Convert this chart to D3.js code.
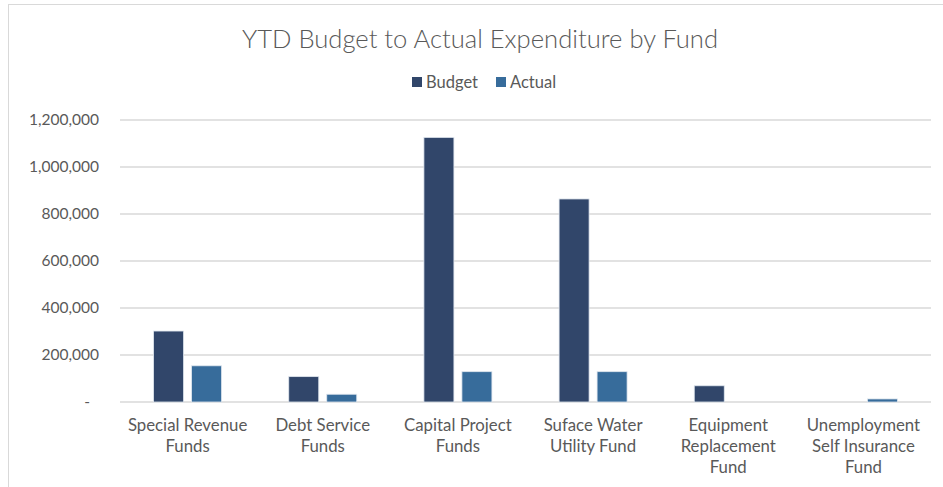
<!DOCTYPE html>
<html>
<head>
<meta charset="utf-8">
<script src="https://cdn.jsdelivr.net/npm/d3@7"></script>
<style>
  body { margin: 0; background: #fff; }
  text { font-family: Lato, "Open Sans", sans-serif; fill: #595959; }
</style>
</head>
<body>
<div id="chart"></div>
<script>
// Chart size
const width = 943;
const height = 487;
const margin = { top: 120, right: 12, bottom: 85, left: 120 };

// Data
const funds = [
    "Special Revenue Funds",
    "Debt Service Funds",
    "Capital Project Funds",
    "Suface Water Utility Fund",
    "Equipment Replacement Fund",
    "Unemployment Self Insurance Fund"
];
const fundLabels = [
    ["Special Revenue", "Funds"],
    ["Debt Service", "Funds"],
    ["Capital Project", "Funds"],
    ["Suface Water", "Utility Fund"],
    ["Equipment", "Replacement", "Fund"],
    ["Unemployment", "Self Insurance", "Fund"]
];
const budget = [302000, 108000, 1126000, 864000, 69000, 0];
const actual = [154000, 33000, 129000, 129000, 0, 13000];
const seriesNames = ["Budget", "Actual"];
const seriesColors = ["#31466A", "#376C9B"];
const yTicks = [0, 200000, 400000, 600000, 800000, 1000000, 1200000];

const svg = d3.select("#chart")
    .append("svg")
    .attr("width", width)
    .attr("height", height);

// Outer chart border
svg.append("rect")
    .attr("x", 8.5)
    .attr("y", 4.5)
    .attr("width", width + 10)
    .attr("height", height + 10)
    .attr("fill", "none")
    .attr("stroke", "#d9d9d9");

// Title
svg.append("text")
    .attr("x", 480)
    .attr("y", 48)
    .attr("text-anchor", "middle")
    .style("font-size", "25.6px")
    .style("font-weight", 300)
    .text("YTD Budget to Actual Expenditure by Fund");

// Legend
const legend = svg.append("g").attr("transform", "translate(412,77)");
const legendX = [0, 84];
seriesNames.forEach((name, i) => {
    legend.append("rect")
        .attr("x", legendX[i])
        .attr("y", 0)
        .attr("width", 10)
        .attr("height", 10)
        .attr("fill", seriesColors[i]);
    legend.append("text")
        .attr("x", legendX[i] + 14)
        .attr("y", 11)
        .style("font-size", "16.5px")
        .text(name);
});

// Scales
const x = d3.scaleBand()
    .domain(funds)
    .range([margin.left, width - margin.right]);

const xInner = d3.scaleBand()
    .domain(seriesNames)
    .range([0, 68])
    .paddingInner(8 / 38);

const y = d3.scaleLinear()
    .domain([0, 1200000])
    .range([height - margin.bottom, margin.top]);

// Gridlines
svg.append("g")
    .selectAll("line")
    .data(yTicks)
    .join("line")
    .attr("x1", margin.left)
    .attr("x2", width - margin.right)
    .attr("y1", d => y(d))
    .attr("y2", d => y(d))
    .attr("stroke", "#d9d9d9")
    .attr("stroke-width", 1.3);

// Y axis labels
const fmt = d3.format(",");
svg.append("g")
    .selectAll("text")
    .data(yTicks)
    .join("text")
    .attr("x", d => d === 0 ? 90 : 99)
    .attr("y", d => y(d) + 5)
    .attr("text-anchor", "end")
    .style("font-size", "15.5px")
    .text(d => d === 0 ? "-" : fmt(d));

// Bars
const rows = funds.map((f, i) => ({ fund: f, values: [budget[i], actual[i]] }));
const groups = svg.append("g")
    .selectAll("g")
    .data(rows)
    .join("g")
    .attr("transform", d => `translate(${x(d.fund) + x.bandwidth() / 2 - 34},0)`);

groups.selectAll("rect")
    .data(d => d.values.map((v, i) => ({ name: seriesNames[i], value: v, color: seriesColors[i] })))
    .join("rect")
    .filter(d => d.value > 0)
    .attr("x", d => xInner(d.name))
    .attr("y", d => y(d.value))
    .attr("width", xInner.bandwidth())
    .attr("height", d => y(0) - y(d.value))
    .attr("fill", d => d.color)
    .attr("stroke", "#dfe6ee")
    .attr("stroke-width", 0.8);

// X labels
const xl = svg.append("g")
    .selectAll("text")
    .data(funds)
    .join("text")
    .attr("text-anchor", "middle")
    .style("font-size", "16.8px");

xl.each(function (d, i) {
    const t = d3.select(this);
    fundLabels[i].forEach((line, j) => {
        t.append("tspan")
            .attr("x", x(d) + x.bandwidth() / 2)
            .attr("y", 431 + j * 21)
            .text(line);
    });
});
</script>
</body>
</html>
